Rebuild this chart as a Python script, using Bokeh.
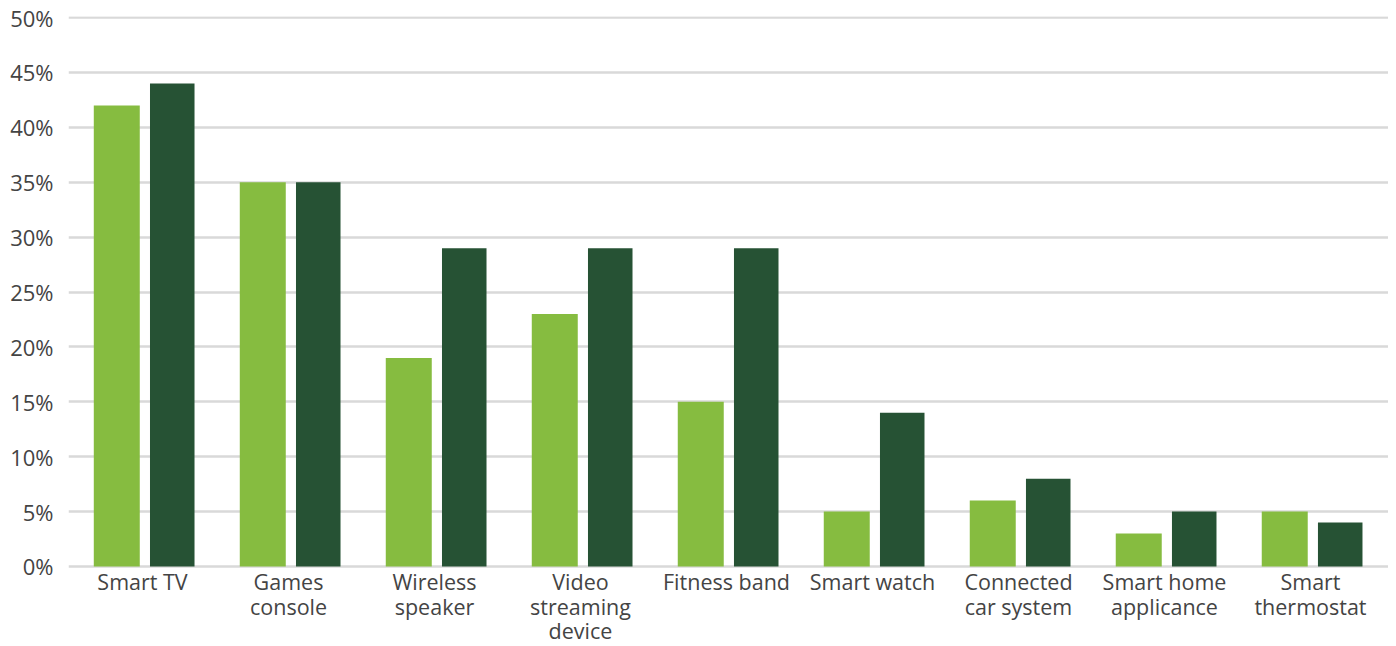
from bokeh.plotting import figure
from bokeh.models import ColumnDataSource, FactorRange, FixedTicker, PrintfTickFormatter
from bokeh.core.properties import value
from bokeh.transform import dodge
from bokeh.embed import file_html
from bokeh.resources import INLINE

categories = ["Smart TV", "Games\nconsole", "Wireless\nspeaker", "Video\nstreaming\ndevice",
              "Fitness band", "Smart watch", "Connected\ncar system", "Smart home\napplicance",
              "Smart\nthermostat"]
series_a = [42, 35, 19, 23, 15, 5, 6, 3, 5]
series_b = [44, 35, 29, 29, 29, 14, 8, 5, 4]
y_ticks = [0, 5, 10, 15, 20, 25, 30, 35, 40, 45, 50]

src = ColumnDataSource(dict(cat=categories, a=series_a, b=series_b,
                            zero=[0] * len(categories)))

p = figure(x_range=FactorRange(*categories, range_padding=0.0046), y_range=(-7.29, 50.1),
           width=1388, height=646,
           output_backend="svg", toolbar_location=None,
           min_border_left=68, min_border_right=0, min_border_top=16, min_border_bottom=0)
p.outline_line_color = None

p.vbar(x=dodge("cat", -0.19, range=p.x_range), top="a", width=0.315, source=src,
       fill_color="#86bc40", line_color=None)
p.vbar(x=dodge("cat", 0.19, range=p.x_range), top="b", width=0.305, source=src,
       fill_color="#265234", line_color=None)

p.text(x="cat", y="zero", text="cat", source=src, y_offset=1, x_offset=-2,
       text_align="center", text_baseline="top",
       text_font=value("Open Sans"), text_font_size="21.5px", text_color="#444444",
       text_line_height=0.83)

p.xaxis.visible = False
p.xgrid.grid_line_color = None
p.ygrid.grid_line_color = "#d9d9d9"
p.ygrid.grid_line_width = 2.5
p.ygrid.level = "underlay"

p.yaxis.ticker = FixedTicker(ticks=y_ticks)
p.yaxis.formatter = PrintfTickFormatter(format="%d%%")
ax = p.yaxis[0]
ax.axis_line_color = None
ax.major_tick_line_color = None
ax.minor_tick_line_color = None
ax.major_label_text_font = "Open Sans"
ax.major_label_text_font_size = "22px"
ax.major_label_text_color = "#444444"
ax.major_label_standoff = 9

open("out.html", "w").write(file_html(p, INLINE))
